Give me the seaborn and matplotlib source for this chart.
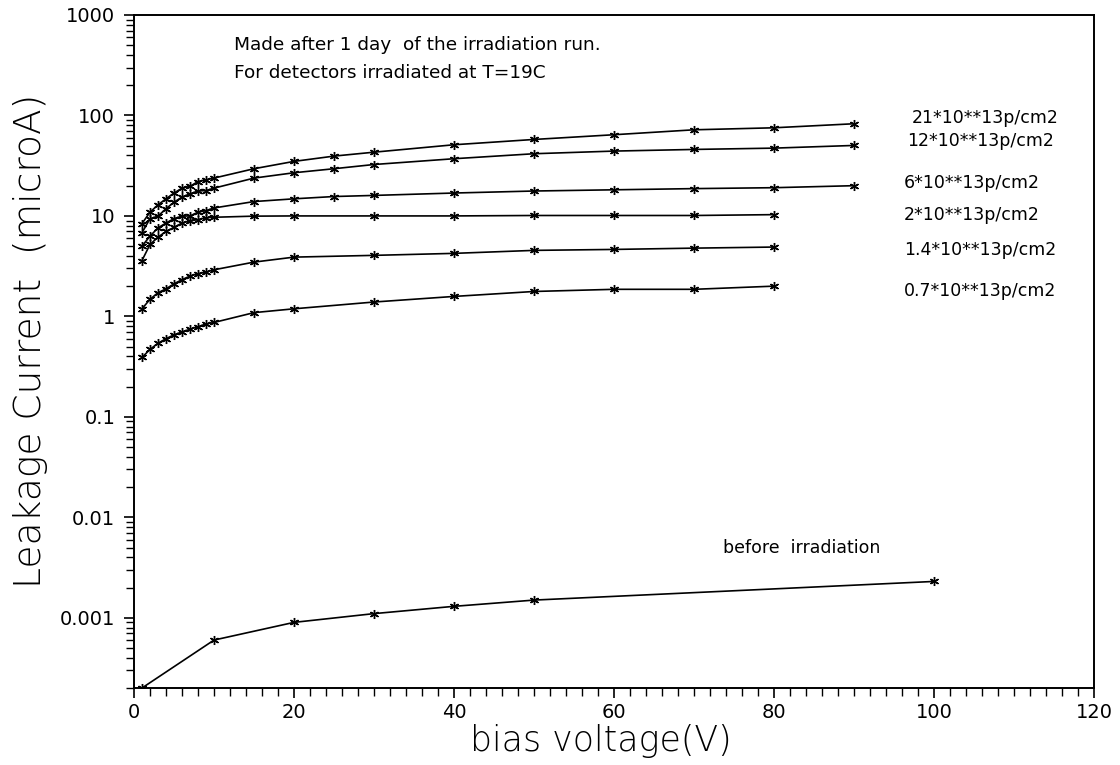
import numpy as np
import pandas as pd
import matplotlib
matplotlib.use("Agg")
import matplotlib.pyplot as plt
from matplotlib.ticker import MultipleLocator, LogLocator, FixedLocator, FixedFormatter, NullFormatter
import seaborn as sns

# ---------------- data ----------------
v_full = [1, 2, 3, 4, 5, 6, 7, 8, 9, 10, 15, 20, 25, 30, 40, 50, 60, 70, 80, 90]
v_mid = [1, 2, 3, 4, 5, 6, 7, 8, 9, 10, 15, 20, 30, 40, 50, 60, 70, 80]
v_before = [1, 10, 20, 30, 40, 50, 100]

i_21 = [8.4, 10.9, 12.9, 14.8, 16.9, 18.9, 19.7, 22.0, 22.9, 23.8, 29.5, 34.9,
        39.4, 43.1, 51.1, 57.7, 64.3, 72.0, 75.4, 82.7]
i_12 = [6.8, 9.4, 9.95, 11.8, 13.7, 15.4, 16.6, 17.7, 17.9, 18.9, 23.8, 26.9,
        29.5, 32.5, 37.1, 41.6, 44.2, 45.9, 47.3, 50.3]
i_6 = [5.0, 6.3, 7.6, 8.5, 9.4, 9.95, 10.0, 10.9, 11.3, 12.0, 13.9, 14.8,
       15.6, 16.0, 16.9, 17.7, 18.2, 18.7, 19.1, 20.0]
i_2 = [3.6, 5.2, 6.15, 7.0, 7.7, 8.5, 8.9, 9.2, 9.6, 9.7, 9.95, 10.0,
       10.0, 10.0, 10.1, 10.1, 10.1, 10.3]
i_14 = [1.19, 1.48, 1.72, 1.88, 2.11, 2.32, 2.52, 2.66, 2.76, 2.91, 3.47, 3.89,
        4.05, 4.24, 4.54, 4.64, 4.78, 4.9]
i_07 = [0.39, 0.47, 0.54, 0.60, 0.655, 0.70, 0.745, 0.79, 0.84, 0.87, 1.09, 1.19,
        1.39, 1.58, 1.77, 1.86, 1.86, 2.0]
i_before = [0.0002, 0.0006, 0.0009, 0.0011, 0.0013, 0.0015, 0.0023]

series_names = ["21*10**13p/cm2", "12*10**13p/cm2", "6*10**13p/cm2",
                "2*10**13p/cm2", "1.4*10**13p/cm2", "0.7*10**13p/cm2",
                "before  irradiation"]
series_x = [v_full, v_full, v_full, v_mid, v_mid, v_mid, v_before]
series_y = [i_21, i_12, i_6, i_2, i_14, i_07, i_before]

# label anchor positions (data coords)
label_x = [97.25, 96.6, 96.25, 96.25, 96.25, 96.25, 73.6]
label_y = [93.4, 55.1, 21.1, 10.1, 4.54, 1.81, 0.0049]

xticks = [0, 20, 40, 60, 80, 100, 120]
yticks = [0.001, 0.01, 0.1, 1, 10, 100, 1000]
ytick_labels = ["0.001", "0.01", "0.1", "1", "10", "100", "1000"]

# ---------------- plot ----------------
sns.set_theme(style="ticks")
plt.rcParams["font.family"] = ["DejaVu Sans"]
plt.rcParams["text.color"] = "black"
plt.rcParams["axes.labelcolor"] = "black"

fig = plt.figure(figsize=(11.2, 7.65), dpi=100)
ax = fig.add_axes([134 / 1120, 1 - 688 / 765, 960 / 1120, 673 / 765])

rows = []
for name, xs, ys in zip(series_names, series_x, series_y):
    for x, y in zip(xs, ys):
        rows.append({"series": name, "voltage": x, "current": y})
df = pd.DataFrame(rows)

for name in series_names:
    sub = df[df["series"] == name]
    sns.lineplot(data=sub, x="voltage", y="current", ax=ax, color="black",
                 linewidth=1.2, marker=(6, 2, 0), markersize=6.5,
                 markeredgecolor="black", markeredgewidth=1.0,
                 estimator=None, sort=False, legend=False)

ax.set_yscale("log")
ax.set_xlim(0, 120)
ax.set_ylim(0.0002, 1000)

ax.xaxis.set_major_locator(FixedLocator(xticks))
ax.xaxis.set_minor_locator(MultipleLocator(2))
ax.yaxis.set_major_locator(FixedLocator(yticks))
ax.yaxis.set_major_formatter(FixedFormatter(ytick_labels))
ax.yaxis.set_minor_locator(LogLocator(base=10, subs=np.arange(2, 10), numticks=20))
ax.yaxis.set_minor_formatter(NullFormatter())

ax.tick_params(axis="both", which="major", direction="out", length=7.5,
               width=1.2, color="black", labelsize=14, labelcolor="black")
ax.tick_params(axis="y", which="major", pad=6)
ax.tick_params(axis="x", which="major", pad=3)
ax.tick_params(axis="both", which="minor", direction="out", length=5.5,
               width=1.0, color="black")

for sp in ax.spines.values():
    sp.set_visible(True)
    sp.set_color("black")
    sp.set_linewidth(1.4)

ax.set_xlabel("bias voltage(V)", fontsize=25, fontweight="light", color="black")
ax.xaxis.set_label_coords(0.486, -0.054)
ax.set_ylabel("Leakage Current  (microA)", fontsize=27, fontweight="light", color="black")
ax.yaxis.set_label_coords(-0.090, 0.516)

for name, lx, ly in zip(series_names, label_x, label_y):
    ax.text(lx, ly, name, fontsize=12.5, ha="left", va="center", color="black")

ax.text(0.104, 0.955, "Made after 1 day  of the irradiation run.",
        transform=ax.transAxes, fontsize=13.3, ha="left", va="center", color="black")
ax.text(0.104, 0.914, "For detectors irradiated at T=19C",
        transform=ax.transAxes, fontsize=13.3, ha="left", va="center", color="black")

fig.savefig("out.png", dpi=100)
